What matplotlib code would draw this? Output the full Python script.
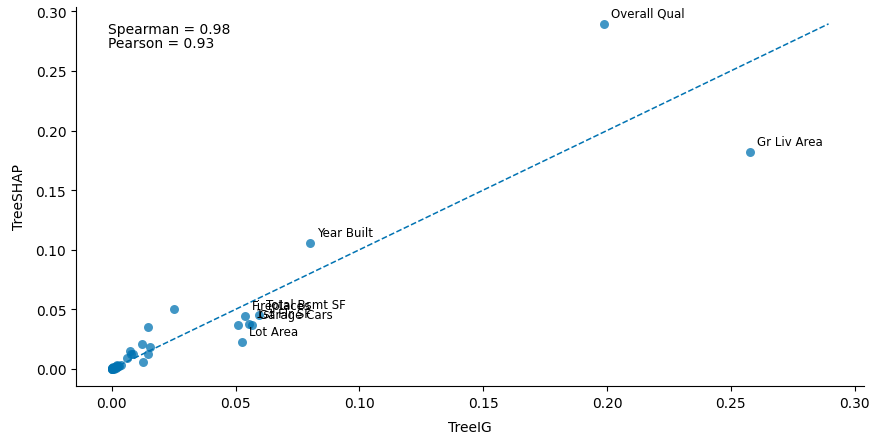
import numpy as np
import matplotlib.pyplot as plt

# feature importances: TreeIG (x) vs TreeSHAP (y)
labels = ["Overall Qual", "Gr Liv Area", "Year Built", "Total Bsmt SF",
          "Garage Cars", "1st Flr SF", "Fireplaces", "Lot Area"]
ig_top = [0.1987, 0.2576, 0.0799, 0.0595, 0.0566, 0.0553, 0.0537, 0.0525]
shap_top = [0.2895, 0.1822, 0.1055, 0.0449, 0.0370, 0.0373, 0.0441, 0.0227]

ig_rest = [0.0510, 0.0252, 0.0144, 0.0123, 0.0154, 0.0147, 0.0127, 0.0073,
           0.0077, 0.0086, 0.0063, 0.0035, 0.0030, 0.0025, 0.0020, 0.0022,
           0.0015, 0.0012, 0.0008, 0.0005, 0.0003, 0.0001, 0.0, 0.0,
           0.0, 0.0002, 0.0010, 0.0018]
shap_rest = [0.0370, 0.0504, 0.0350, 0.0208, 0.0185, 0.0128, 0.0058, 0.0150,
             0.0125, 0.0125, 0.0095, 0.0030, 0.0028, 0.0022, 0.0015, 0.0030,
             0.0010, 0.0018, 0.0006, 0.0012, 0.0004, 0.0008, 0.0, 0.0002,
             0.0005, 0.0, 0.0003, 0.0024]

spearman = 0.98
pearson = 0.93

ig = np.array(ig_top + ig_rest)
shap = np.array(shap_top + shap_rest)

col = "#0173b2"
fig = plt.figure(figsize=(8.74, 4.35), dpi=100)
ax = fig.add_axes([0.087, 0.110, 0.902, 0.8725])

ax.scatter(ig, shap, s=42, color=col, alpha=0.75, linewidths=0)
mx = max(ig.max(), shap.max())
ax.plot([0, mx], [0, mx], "--", color=col, linewidth=1.1)

for name, x, y in zip(labels, ig_top, shap_top):
    ax.annotate(name, (x, y), xytext=(5, 5), textcoords="offset points", fontsize=8.5)

ax.text(0.04, 0.96, "Spearman = %.2f\nPearson = %.2f" % (spearman, pearson),
        transform=ax.transAxes, va="top", ha="left", fontsize=10, linespacing=1.0)

ax.set_xlabel("TreeIG", labelpad=7)
ax.set_ylabel("TreeSHAP", labelpad=7)
ax.spines["top"].set_visible(False)
ax.spines["right"].set_visible(False)

plt.savefig("out.png", dpi=100)
